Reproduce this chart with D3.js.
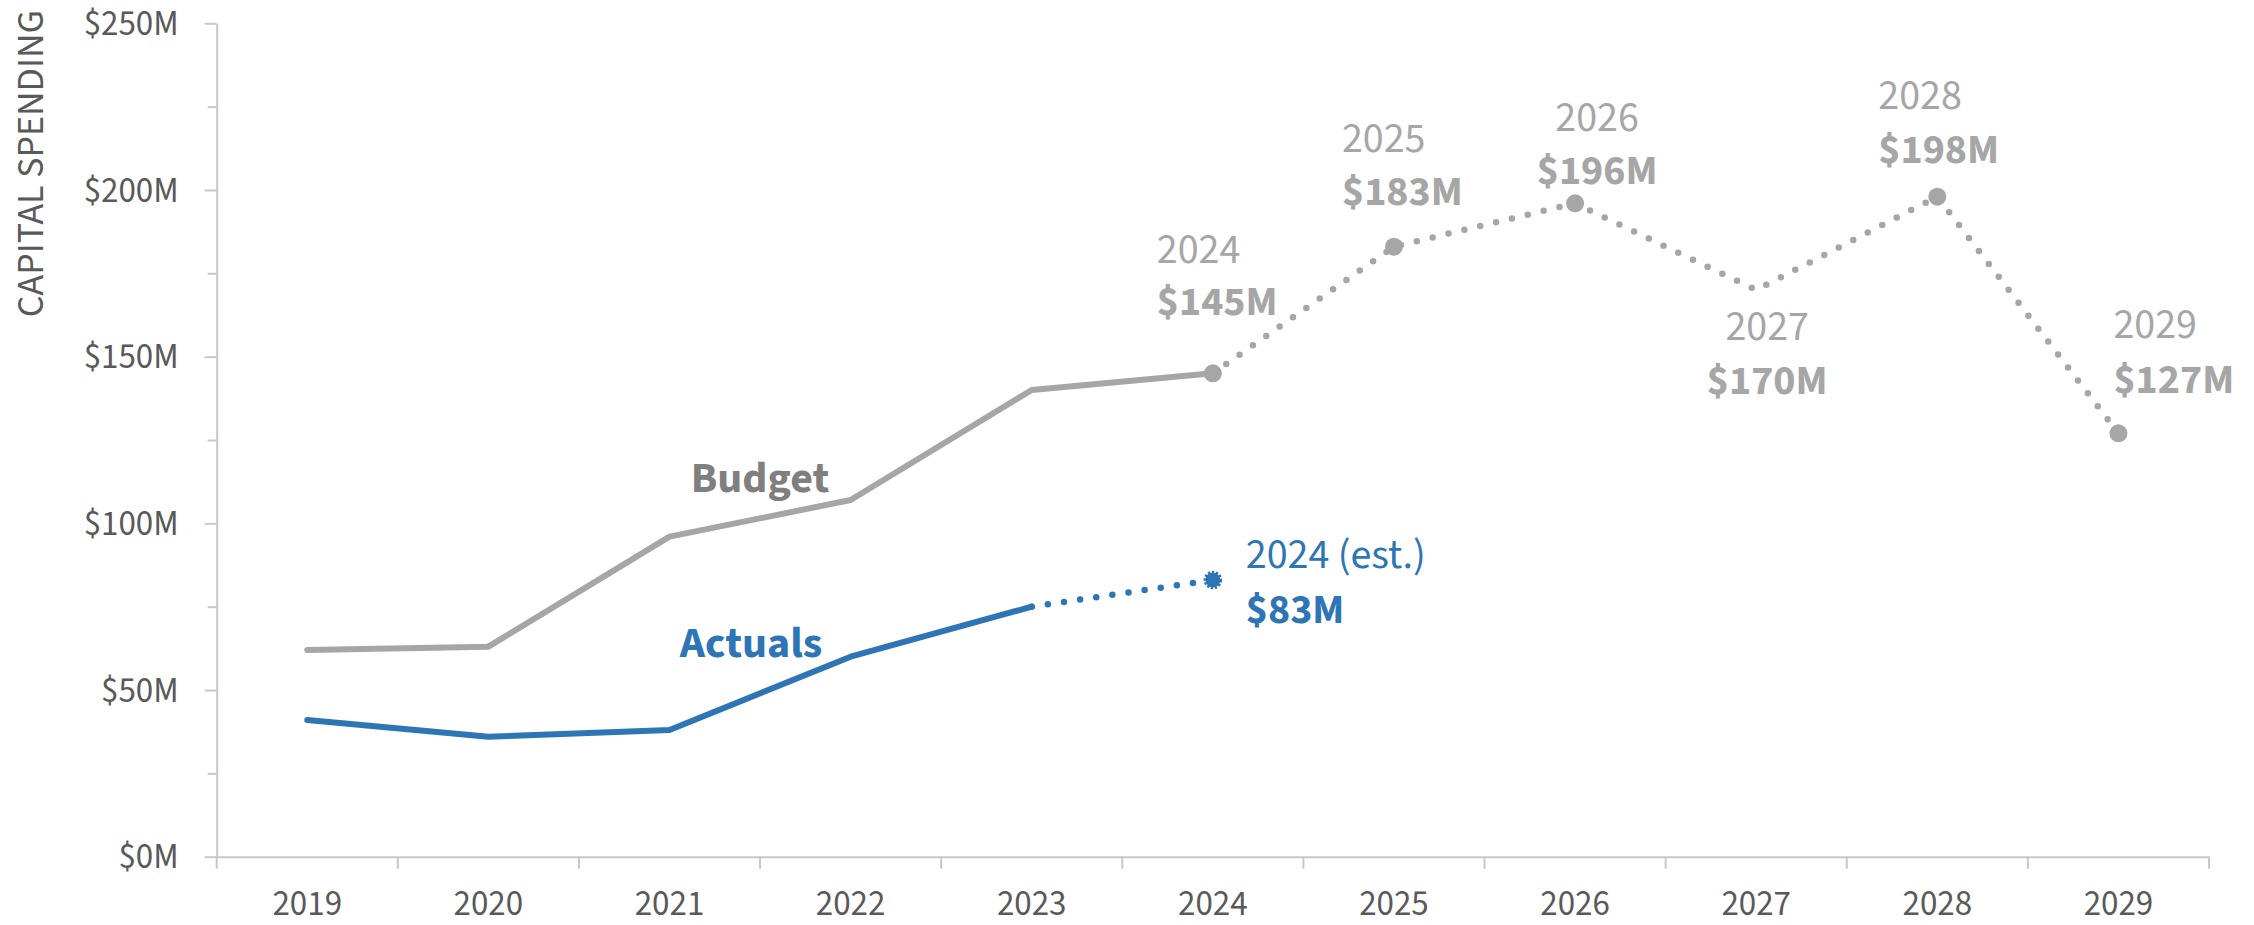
<!DOCTYPE html>
<html>
<head>
<meta charset="utf-8">
<script src="https://cdn.jsdelivr.net/npm/d3@7"></script>
<style>
  body { margin: 0; background: #fff; }
  svg text { font-family: "Source Sans Pro", "Source Sans 3", Lato, sans-serif; }
  .axis path, .axis line { stroke: #c8c8c8; stroke-width: 2; }
  .axis text { fill: #595959; font-size: 35px; }
</style>
</head>
<body>
<svg id="chart"></svg>
<script>
// data ($M)
var years = ["2019", "2020", "2021", "2022", "2023", "2024", "2025", "2026", "2027", "2028", "2029"];
var budget = [62, 63, 96, 107, 140, 145, 183, 196, 170, 198, 127];
var actuals = [41, 36, 38, 60, 75, 83];
var yTicks = [0, 50, 100, 150, 200, 250];
var yMinorTicks = [25, 75, 125, 175, 225];
var budgetMarkerYears = ["2024", "2025", "2026", "2028", "2029"];
var budgetLabelYears = ["2024", "2025", "2026", "2027", "2028", "2029"];

var gray = "#a6a6a6",
    darkGray = "#7f7f7f",
    blue = "#2e75b6";

var width = 2254, height = 925;
var margin = {top: 23.3, right: 45, bottom: 68.3, left: 216.7};
var w = width - margin.left - margin.right,
    h = height - margin.top - margin.bottom;

// label placement, offsets from the point (px)
var budgetLabelLayout = [
  {anchor: "start",  dx: -56, dyYear: -110, dyValue: -58},
  {anchor: "start",  dx: -52, dyYear: -95,  dyValue: -42},
  {anchor: "middle", dx: 22,  dyYear: -72,  dyValue: -19},
  {anchor: "middle", dx: 11,  dyYear: 50,   dyValue: 104},
  {anchor: "start",  dx: -59, dyYear: -88,  dyValue: -34},
  {anchor: "start",  dx: -5,  dyYear: -95,  dyValue: -40}
];

var svg = d3.select("#chart")
  .attr("width", width)
  .attr("height", height)
  .append("g")
    .attr("transform", "translate(" + margin.left + "," + margin.top + ")");

var x = d3.scaleBand().domain(years).range([0, w]).padding(0);
var y = d3.scaleLinear().domain([0, 250]).range([h, 0]);
function xc(yr){ return x(yr) + x.bandwidth() / 2; }

//Y axis, major + minor ticks
svg.append("g")
  .attr("class", "axis")
  .call(d3.axisLeft(y).tickValues(yTicks).tickSize(12).tickSizeOuter(0).tickPadding(26)
    .tickFormat(function(d){ return "$" + d + "M"; }));

svg.append("g")
  .attr("class", "axis")
  .call(d3.axisLeft(y).tickValues(yMinorTicks).tickSize(9).tickFormat(""))
  .select(".domain").remove();

svg.append("text")
  .attr("transform", "translate(" + (43 - margin.left) + "," + (10 - margin.top) + ") rotate(-90)")
  .attr("text-anchor", "end")
  .style("fill", "#595959")
  .style("font-size", "38px")
  .text("CAPITAL SPENDING");

//X axis, labels centred in bands, ticks on band edges
var xAxis = svg.append("g")
  .attr("class", "axis")
  .attr("transform", "translate(0," + h + ")")
  .call(d3.axisBottom(x).tickSize(0).tickSizeOuter(0).tickPadding(33));

xAxis.selectAll(".edge")
  .data(years.map(function(d){ return x(d); }).concat([x.range()[1]]))
  .enter().append("line")
  .attr("class", "edge")
  .attr("x1", function(d){ return d; })
  .attr("x2", function(d){ return d; })
  .attr("y1", 0)
  .attr("y2", 12);

//Lines
var budgetPts = years.map(function(d, i){ return {year: d, value: budget[i]}; });
var actualPts = actuals.map(function(v, i){ return {year: years[i], value: v}; });

var line = d3.line()
  .x(function(d){ return xc(d.year); })
  .y(function(d){ return y(d.value); });

function drawLine(data, color, dotted){
  svg.append("path")
    .datum(data)
    .attr("d", line)
    .style("fill", "none")
    .style("stroke", color)
    .style("stroke-width", dotted ? 6.5 : 6)
    .style("stroke-linecap", "round")
    .style("stroke-linejoin", "round")
    .style("stroke-dasharray", dotted ? "0 16.3" : null);
}

drawLine(budgetPts.slice(0, 6), gray, false);
drawLine(budgetPts.slice(5), gray, true);
drawLine(actualPts.slice(0, 5), blue, false);
drawLine(actualPts.slice(4), blue, true);

//Markers
svg.selectAll(".dot-budget")
  .data(budgetPts.filter(function(d){ return budgetMarkerYears.indexOf(d.year) > -1; }))
  .enter().append("circle")
  .attr("class", "dot-budget")
  .attr("cx", function(d){ return xc(d.year); })
  .attr("cy", function(d){ return y(d.value); })
  .attr("r", 9)
  .style("fill", gray);

var est = actualPts[actualPts.length - 1];
svg.append("circle")
  .attr("cx", xc(est.year))
  .attr("cy", y(est.value))
  .attr("r", 7.5)
  .style("fill", blue)
  .style("stroke", blue)
  .style("stroke-width", 3.5)
  .style("stroke-dasharray", "2.2 1.6");

//Budget point labels
var labelPts = budgetPts.filter(function(d){ return budgetLabelYears.indexOf(d.year) > -1; });
labelPts.forEach(function(d, i){
  var l = budgetLabelLayout[i];
  var px = xc(d.year) + l.dx, py = y(d.value);
  svg.append("text")
    .attr("x", px).attr("y", py + l.dyYear)
    .attr("text-anchor", l.anchor)
    .style("fill", gray).style("font-size", "42px")
    .text(d.year);
  svg.append("text")
    .attr("x", px).attr("y", py + l.dyValue)
    .attr("text-anchor", l.anchor)
    .style("fill", gray).style("font-size", "42px").style("font-weight", "bold")
    .text("$" + d.value + "M");
});

//Actuals estimate label
svg.append("text")
  .attr("x", xc(est.year) + 33).attr("y", y(est.value) - 12)
  .style("fill", blue).style("font-size", "42px")
  .text(est.year + " (est.)");
svg.append("text")
  .attr("x", xc(est.year) + 33).attr("y", y(est.value) + 43)
  .style("fill", blue).style("font-size", "42px").style("font-weight", "bold")
  .text("$" + est.value + "M");

//Series names
var bMid = (xc("2021") + xc("2022")) / 2;
svg.append("text")
  .attr("x", bMid)
  .attr("y", y((budget[2] + budget[3]) / 2) - 26)
  .attr("text-anchor", "middle")
  .style("fill", darkGray).style("font-size", "44px").style("font-weight", "bold")
  .text("Budget");

svg.append("text")
  .attr("x", bMid - 9)
  .attr("y", y((actuals[2] + actuals[3]) / 2) - 36)
  .attr("text-anchor", "middle")
  .style("fill", blue).style("font-size", "44px").style("font-weight", "bold")
  .text("Actuals");
</script>
</body>
</html>
